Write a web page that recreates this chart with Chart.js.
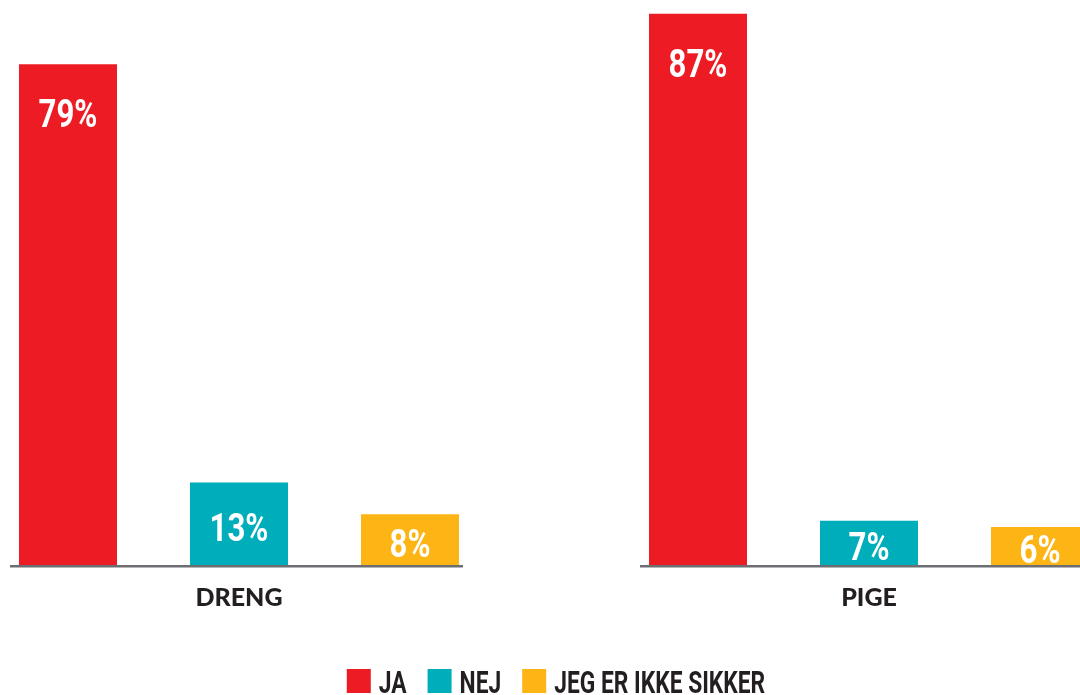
<!DOCTYPE html>
<html><head><meta charset="utf-8">
<script src="https://cdn.jsdelivr.net/npm/chart.js@4/dist/chart.umd.min.js"></script>
<style>
html,body{margin:0;padding:0;width:1080px;height:695px;overflow:hidden;background:#fff}
#wrap{position:absolute;left:-86px;top:0;width:1280px;height:695px}
</style></head><body>
<div id="wrap"><canvas id="c"></canvas></div>
<script>
const categories = ['DRENG', 'PIGE'];
const seriesNames = ['JA', 'NEJ', 'JEG ER IKKE SIKKER'];
const jaValues = [79, 87];
const nejValues = [13, 7];
const usikkerValues = [8, 6];
const valueSuffix = '%';
const seriesColors = ['#ED1C24', '#00ADBB', '#FDB515'];

const seriesValues = [jaValues, nejValues, usikkerValues];

function drawCondensed(ctx, text, x, y, sx) {
  ctx.save();
  ctx.translate(x, y);
  ctx.scale(sx, 1);
  ctx.fillText(text, 0, 0);
  ctx.restore();
}

const valueLabels = {
  id: 'valueLabels',
  afterDatasetsDraw(chart) {
    const ctx = chart.ctx;
    const base = chart.scales.y.getPixelForValue(0);
    ctx.save();
    ctx.fillStyle = '#ffffff';
    ctx.font = 'bold 39px Roboto';
    ctx.textAlign = 'center';
    ctx.textBaseline = 'alphabetic';
    chart.data.datasets.forEach((ds, di) => {
      chart.getDatasetMeta(di).data.forEach((bar, i) => {
        const top = bar.y;
        const cy = Math.min(top + 49, (top + base) / 2 + 3);
        drawCondensed(ctx, ds.data[i] + valueSuffix, bar.x, cy + 14, 0.8);
      });
    });
    // split baseline under each group
    ctx.strokeStyle = '#6d6e71';
    ctx.lineWidth = 2.5;
    const metas = chart.data.datasets.map((d, i) => chart.getDatasetMeta(i));
    categories.forEach((c, i) => {
      const first = metas[0].data[i];
      const last = metas[metas.length - 1].data[i];
      const x0 = first.x - first.width / 2 - 9;
      const x1 = last.x + last.width / 2 + 4;
      ctx.beginPath();
      ctx.moveTo(x0, base + 1.25);
      ctx.lineTo(x1, base + 1.25);
      ctx.stroke();
    });
    ctx.restore();
  },
  afterDraw(chart) {
    const ctx = chart.ctx;
    ctx.save();
    ctx.font = 'bold 31px Roboto';
    const sx = 0.735, box = 24, gapBoxText = 8, gapItems = 21;
    const items = chart.data.datasets.map(ds => ({
      text: ds.label, color: ds.backgroundColor,
      w: ctx.measureText(ds.label).width * sx
    }));
    const total = items.reduce((s, it) => s + box + gapBoxText + it.w, 0) + gapItems * (items.length - 1);
    const ca = chart.chartArea;
    let x = (ca.left + ca.right) / 2 + 2 - total / 2;
    const yBottom = chart.height - 2;
    items.forEach(it => {
      ctx.fillStyle = it.color;
      ctx.fillRect(x, yBottom - box, box, box);
      x += box + gapBoxText;
      ctx.fillStyle = '#231f20';
      ctx.textAlign = 'left';
      ctx.textBaseline = 'alphabetic';
      drawCondensed(ctx, it.text, x, yBottom, sx);
      x += it.w + gapItems;
    });
    ctx.restore();
  }
};

new Chart(document.getElementById('c'), {
  type: 'bar',
  data: {
    labels: categories,
    datasets: seriesNames.map((name, i) => ({
      label: name,
      data: seriesValues[i],
      backgroundColor: seriesColors[i],
      borderWidth: 0,
      barPercentage: 0.5731,
      categoryPercentage: 0.81429
    }))
  },
  options: {
    responsive: true,
    maintainAspectRatio: false,
    animation: false,
    devicePixelRatio: 1,
    layout: { padding: { left: 10, right: 10, top: 1, bottom: 64 } },
    plugins: { legend: { display: false }, tooltip: { enabled: false } },
    scales: {
      x: {
        grid: { display: false, drawTicks: false },
        border: { display: false },
        ticks: { color: '#231f20', padding: 18, font: { family: 'Lato', weight: '900', size: 25 } }
      },
      y: { display: false, min: 0, max: 89 }
    }
  },
  plugins: [valueLabels]
});
</script>
</body></html>
